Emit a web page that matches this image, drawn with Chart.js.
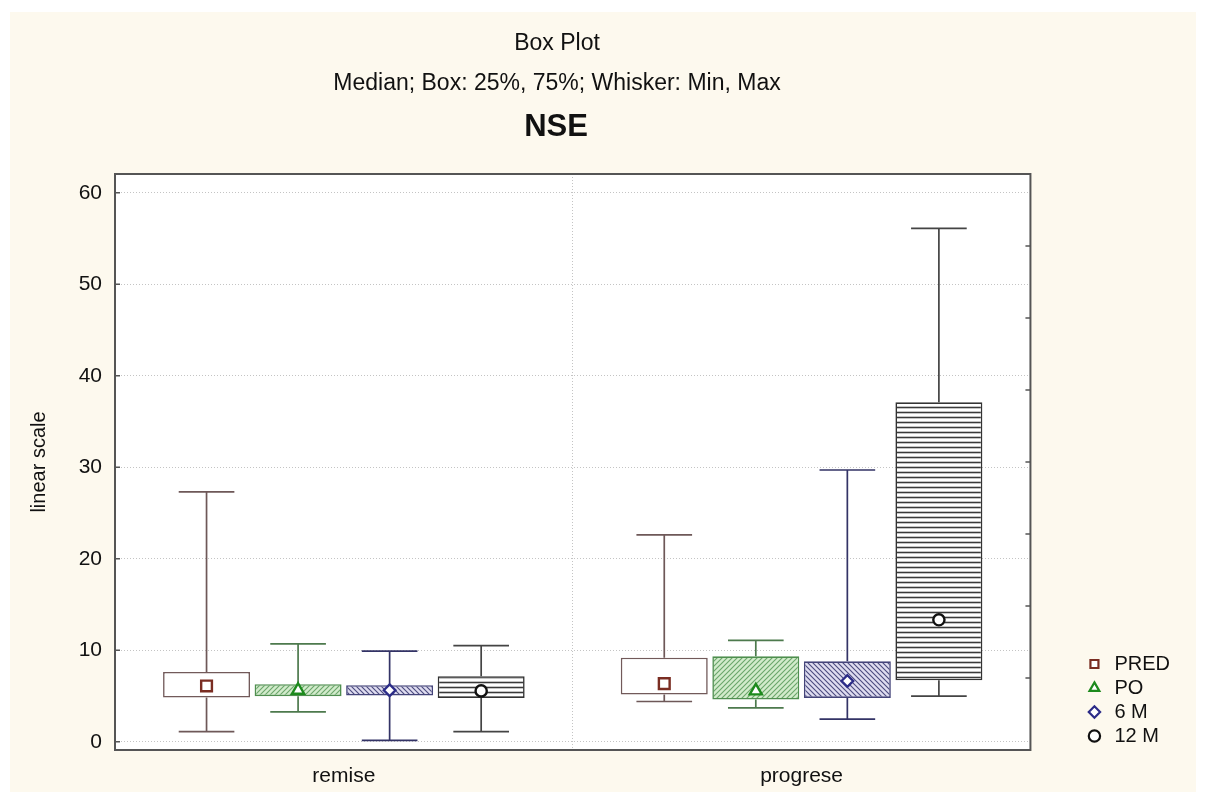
<!DOCTYPE html>
<html>
<head>
<meta charset="utf-8">
<title>NSE box plot</title>
<script src="https://cdn.jsdelivr.net/npm/chart.js@4.4.1/dist/chart.umd.min.js"></script>
<style>
  html, body { margin: 0; padding: 0; background: #ffffff; }
  #wrap { width: 1206px; height: 802px; position: relative; }
</style>
</head>
<body>
<div id="wrap"><canvas id="chart" width="1206" height="802"></canvas></div>
<script>
// ---- data ----
const categories = ['remise', 'progrese'];
const seriesNames = ['PRED', 'PO', '6 M', '12 M'];

// each array: [remise, progrese]
const predMin = [1.1, 4.4];
const predQ1 = [4.84, 5.16];
const predMedian = [6.1, 6.36];
const predQ3 = [7.63, 9.19];
const predMax = [27.3, 22.6];

const poMin = [3.27, 3.7];
const poQ1 = [4.98, 4.62];
const poMedian = [5.63, 5.56];
const poQ3 = [6.29, 9.34];
const poMax = [10.7, 11.08];

const m6Min = [0.15, 2.47];
const m6Q1 = [5.05, 4.79];
const m6Median = [5.63, 6.64];
const m6Q3 = [6.18, 8.79];
const m6Max = [9.9, 29.7];

const m12Min = [1.1, 4.98];
const m12Q1 = [4.79, 6.72];
const m12Median = [5.56, 13.33];
const m12Q3 = [7.16, 37.1];
const m12Max = [10.5, 56.1];

const yTickValues = [0, 10, 20, 30, 40, 50, 60];
const titleLines = ['Box Plot', 'Median; Box: 25%, 75%; Whisker: Min, Max'];
const mainTitle = 'NSE';
const yAxisTitle = 'linear scale';

// ---- fill patterns ----
function makeHatch(bg, fg, kind, size, lw) {
  const c = document.createElement('canvas');
  c.width = size; c.height = size;
  const g = c.getContext('2d');
  g.fillStyle = bg;
  g.fillRect(0, 0, size, size);
  g.strokeStyle = fg;
  g.lineWidth = lw;
  g.beginPath();
  if (kind === 'fwd') {
    g.moveTo(-1, size + 1); g.lineTo(size + 1, -1);
    g.moveTo(-1, 1); g.lineTo(1, -1);
    g.moveTo(size - 1, size + 1); g.lineTo(size + 1, size - 1);
  } else if (kind === 'back') {
    g.moveTo(-1, -1); g.lineTo(size + 1, size + 1);
    g.moveTo(size - 1, -1); g.lineTo(size + 1, 1);
    g.moveTo(-1, size - 1); g.lineTo(1, size + 1);
  } else {
    g.moveTo(0, size / 2); g.lineTo(size, size / 2);
  }
  g.stroke();
  return g.createPattern(c, 'repeat');
}

const fillPred = '#ffffff';
const fillPo = makeHatch('#d2ebcb', '#6aa66a', 'fwd', 5, 1.1);
const fill6m = makeHatch('#dedcf0', '#4b4a7e', 'back', 5, 1.1);
const fill12m = makeHatch('#ffffff', '#3a3a3a', 'horiz', 5, 1.6);

function seriesBoxes(q1, q3) {
  return categories.map((c, j) => [q1[j], q3[j]]);
}

const datasets = [
  { label: seriesNames[0], data: seriesBoxes(predQ1, predQ3), backgroundColor: fillPred, borderColor: '#725a5a',
    stats: { min: predMin, med: predMedian, max: predMax }, whiskerColor: '#6e5858',
    marker: { style: 'rect', radius: 7.6, color: '#7a2d22' } },
  { label: seriesNames[1], data: seriesBoxes(poQ1, poQ3), backgroundColor: fillPo, borderColor: '#4f8f4f',
    stats: { min: poMin, med: poMedian, max: poMax }, whiskerColor: '#4d7a4d',
    marker: { style: 'triangle', radius: 7, color: '#1d8a1d' } },
  { label: seriesNames[2], data: seriesBoxes(m6Q1, m6Q3), backgroundColor: fill6m, borderColor: '#44447a',
    stats: { min: m6Min, med: m6Median, max: m6Max }, whiskerColor: '#333366',
    marker: { style: 'rectRot', radius: 5.8, color: '#2c2c88' } },
  { label: seriesNames[3], data: seriesBoxes(m12Q1, m12Q3), backgroundColor: fill12m, borderColor: '#333333',
    stats: { min: m12Min, med: m12Median, max: m12Max }, whiskerColor: '#444444',
    marker: { style: 'circle', radius: 5.6, color: '#111111' } }
].map(ds => Object.assign(ds, { borderWidth: 1.6, borderSkipped: false }));

// ---- plugins ----
const pageBackground = {
  id: 'pageBackground',
  beforeDraw(chart) {
    const { ctx, chartArea: a } = chart;
    ctx.save();
    ctx.fillStyle = '#ffffff';
    ctx.fillRect(0, 0, chart.width, chart.height);
    ctx.fillStyle = '#fdf9ee';
    ctx.fillRect(10, 12, chart.width - 20, chart.height - 22);
    ctx.fillStyle = '#ffffff';
    ctx.fillRect(a.left, a.top, a.right - a.left, a.bottom - a.top);
    ctx.restore();
  }
};

const headerText = {
  id: 'headerText',
  afterDraw(chart) {
    const ctx = chart.ctx;
    ctx.save();
    ctx.fillStyle = '#111111';
    ctx.textAlign = 'center';
    ctx.textBaseline = 'alphabetic';
    ctx.font = '23px "Liberation Sans", Arial, sans-serif';
    ctx.fillText(titleLines[0], 557, 50);
    ctx.fillText(titleLines[1], 557, 90);
    ctx.font = 'bold 31px "Liberation Sans", Arial, sans-serif';
    ctx.fillText(mainTitle, 556, 136);
    ctx.restore();
  }
};

const boxWhiskers = {
  id: 'boxWhiskers',
  beforeDatasetsDraw(chart) {
    const ctx = chart.ctx, y = chart.scales.y;
    ctx.save();
    chart.data.datasets.forEach((ds, i) => {
      chart.getDatasetMeta(i).data.forEach((bar, j) => {
        const x = bar.x, half = bar.width * 0.32;
        const top = y.getPixelForValue(ds.stats.max[j]);
        const bottom = y.getPixelForValue(ds.stats.min[j]);
        const q3 = y.getPixelForValue(ds.data[j][1]);
        const q1 = y.getPixelForValue(ds.data[j][0]);
        ctx.strokeStyle = ds.whiskerColor;
        ctx.lineWidth = 1.7;
        ctx.beginPath();
        ctx.moveTo(x, top); ctx.lineTo(x, q3);
        ctx.moveTo(x, q1); ctx.lineTo(x, bottom);
        ctx.moveTo(x - half, top); ctx.lineTo(x + half, top);
        ctx.moveTo(x - half, bottom); ctx.lineTo(x + half, bottom);
        ctx.stroke();
      });
    });
    ctx.restore();
  },
  afterDatasetsDraw(chart) {
    const ctx = chart.ctx, y = chart.scales.y;
    ctx.save();
    chart.data.datasets.forEach((ds, i) => {
      chart.getDatasetMeta(i).data.forEach((bar, j) => {
        ctx.fillStyle = '#ffffff';
        ctx.strokeStyle = ds.marker.color;
        ctx.lineWidth = 2.4;
        Chart.helpers.drawPoint(ctx, {
          pointStyle: ds.marker.style, radius: ds.marker.radius, rotation: 0, borderWidth: 2.4
        }, bar.x, y.getPixelForValue(ds.stats.med[j]));
      });
    });
    ctx.restore();
  }
};

const plotFrame = {
  id: 'plotFrame',
  afterDraw(chart) {
    const { ctx, chartArea: a } = chart;
    const y = chart.scales.y, y2 = chart.scales.y2;
    ctx.save();
    ctx.strokeStyle = '#555555';
    ctx.lineWidth = 2;
    ctx.strokeRect(a.left, a.top, a.right - a.left, a.bottom - a.top);
    ctx.lineWidth = 1.5;
    ctx.beginPath();
    yTickValues.forEach(v => {
      const p = y.getPixelForValue(v);
      ctx.moveTo(a.left, p); ctx.lineTo(a.left + 5, p);
    });
    y2.ticks.forEach(t => {
      const p = y2.getPixelForValue(t.value);
      ctx.moveTo(a.right, p); ctx.lineTo(a.right - 5, p);
    });
    ctx.stroke();
    ctx.restore();
  }
};

const fontFamily = '"Liberation Sans", Arial, sans-serif';

new Chart(document.getElementById('chart'), {
  type: 'bar',
  data: { labels: categories, datasets },
  plugins: [pageBackground, boxWhiskers, plotFrame, headerText],
  options: {
    responsive: false,
    animation: false,
    events: [],
    categoryPercentage: 0.8,
    barPercentage: 0.95,
    layout: { padding: { top: 174, left: 0, right: 26, bottom: 0 } },
    scales: {
      x: {
        grid: { offset: true, color: '#c4c4c4', lineWidth: 1, drawTicks: false },
        border: { display: false, dash: [1, 2] },
        ticks: { color: '#111111', font: { family: fontFamily, size: 21 }, padding: 14 },
        afterFit(s) { s.height = 52; }
      },
      y: {
        min: -0.9,
        max: 62.05,
        afterBuildTicks(s) { s.ticks = yTickValues.map(v => ({ value: v })); },
        grid: { color: '#c4c4c4', lineWidth: 1, drawTicks: false },
        border: { display: false, dash: [1, 2] },
        ticks: { color: '#111111', font: { family: fontFamily, size: 21 }, padding: 13 },
        title: { display: true, text: yAxisTitle, color: '#111111', font: { family: fontFamily, size: 20 }, padding: { top: 27, bottom: 0 } },
        afterFit(s) { s.width = 115; }
      },
      y2: {
        position: 'right',
        min: 0,
        max: 8,
        ticks: { display: false, stepSize: 1 },
        grid: { display: false },
        border: { display: false },
        afterFit(s) { s.width = 50; }
      }
    },
    plugins: {
      title: { display: false },
      tooltip: { enabled: false },
      legend: {
        position: 'right',
        align: 'end',
        fullSize: false,
        labels: {
          usePointStyle: true,
          boxWidth: 21,
          boxHeight: 8,
          padding: 4,
          color: '#111111',
          font: { family: fontFamily, size: 20 },
          generateLabels(chart) {
            return chart.data.datasets.map((ds, i) => ({
              text: ds.label,
              pointStyle: ds.marker.style,
              fillStyle: '#ffffff',
              strokeStyle: ds.marker.color,
              lineWidth: 2.2,
              hidden: false,
              datasetIndex: i,
              fontColor: '#111111'
            }));
          }
        }
      }
    }
  }
});
</script>
</body>
</html>
